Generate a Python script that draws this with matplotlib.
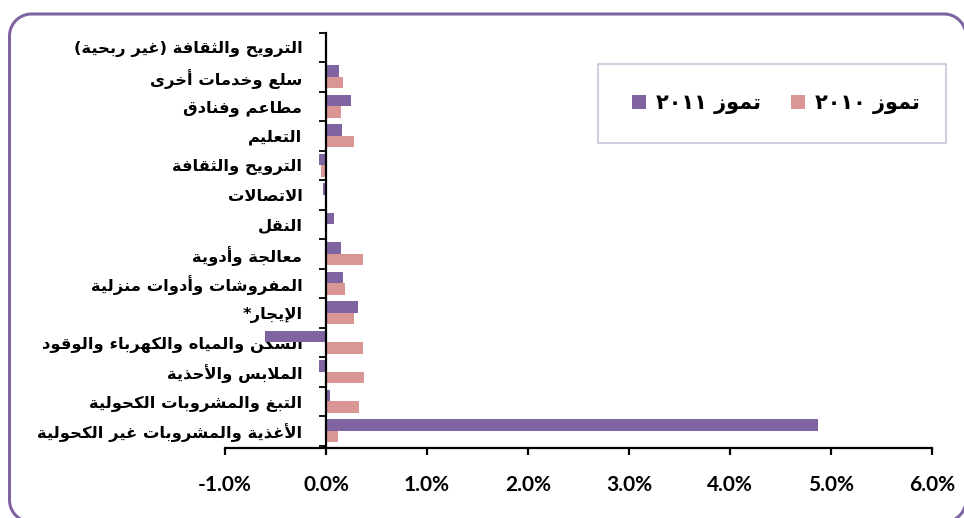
import re
import numpy as np
import matplotlib
matplotlib.use("Agg")
import matplotlib.pyplot as plt
from matplotlib.patches import Rectangle, Patch

# categories, bottom to top
categories = [
    "الأغذية والمشروبات غير الكحولية",
    "التبغ والمشروبات الكحولية",
    "الملابس والأحذية",
    "السكن والمياه والكهرباء والوقود",
    "الإيجار*",
    "المفروشات وأدوات منزلية",
    "معالجة وأدوية",
    "النقل",
    "الاتصالات",
    "الترويح والثقافة",
    "التعليم",
    "مطاعم وفنادق",
    "سلع وخدمات أخرى",
    "الترويح والثقافة (غير ربحية)",
]
jul_2011 = [4.87, 0.04, -0.065, -0.60, 0.32, 0.17, 0.15, 0.08, -0.025, -0.07, 0.16, 0.25, 0.13, 0.0]
jul_2010 = [0.12, 0.33, 0.38, 0.37, 0.28, 0.19, 0.37, 0.0, -0.01, -0.05, 0.28, 0.15, 0.165, 0.0]
label_2011 = "تموز ٢٠١١"
label_2010 = "تموز ٢٠١٠"
x_ticks = [-1, 0, 1, 2, 3, 4, 5, 6]

# --- minimal arabic shaping (matplotlib has no shaping / bidi) ---
DUAL = {'ئ': 0xFE89, 'ب': 0xFE8F, 'ت': 0xFE95, 'ث': 0xFE99, 'ج': 0xFE9D, 'ح': 0xFEA1,
        'خ': 0xFEA5, 'س': 0xFEB1, 'ش': 0xFEB5, 'ص': 0xFEB9, 'ض': 0xFEBD, 'ط': 0xFEC1,
        'ظ': 0xFEC5, 'ع': 0xFEC9, 'غ': 0xFECD, 'ف': 0xFED1, 'ق': 0xFED5, 'ك': 0xFED9,
        'ل': 0xFEDD, 'م': 0xFEE1, 'ن': 0xFEE5, 'ه': 0xFEE9, 'ي': 0xFEF1}
RIGHT = {'آ': 0xFE81, 'أ': 0xFE83, 'ؤ': 0xFE85, 'إ': 0xFE87, 'ا': 0xFE8D, 'ة': 0xFE93,
         'د': 0xFEA9, 'ذ': 0xFEAB, 'ر': 0xFEAD, 'ز': 0xFEAF, 'و': 0xFEED, 'ى': 0xFEEF}
LAM_ALEF = {'آ': 0xFEF5, 'أ': 0xFEF7, 'إ': 0xFEF9, 'ا': 0xFEFB}
MIRROR = {'(': ')', ')': '('}


def shape(s):
    out = []
    prev_joins = False
    i = 0
    while i < len(s):
        c = s[i]
        nxt = s[i + 1] if i + 1 < len(s) else ''
        if c == 'ل' and nxt in LAM_ALEF:
            out.append(chr(LAM_ALEF[nxt] + (1 if prev_joins else 0)))
            prev_joins = False
            i += 2
            continue
        if c in DUAL:
            next_ok = nxt in DUAL or nxt in RIGHT
            if prev_joins and next_ok:
                form = 3
            elif prev_joins:
                form = 1
            elif next_ok:
                form = 2
            else:
                form = 0
            out.append(chr(DUAL[c] + form))
            prev_joins = next_ok
        elif c in RIGHT:
            out.append(chr(RIGHT[c] + (1 if prev_joins else 0)))
            prev_joins = False
        elif c == 'ء':
            out.append(chr(0xFE80))
            prev_joins = False
        else:
            out.append(c)
            prev_joins = False
        i += 1
    return ''.join(out)


def rtl(s):
    shaped = shape(s)
    runs = re.findall(r'[0-9\u0660-\u0669.%]+|[^0-9\u0660-\u0669.%]+', shaped)
    out = []
    for r in reversed(runs):
        if re.match(r'[0-9\u0660-\u0669]', r):
            out.append(r)
        else:
            out.append(''.join(MIRROR.get(ch, ch) for ch in reversed(r)))
    return ''.join(out)


def rounded_rect(x0, y0, x1, y1, r, n=20):
    # corner arcs, counter-clockwise, y up
    pts = []
    for cx, cy, a0 in [(x1 - r, y0 + r, -90), (x1 - r, y1 - r, 0),
                       (x0 + r, y1 - r, 90), (x0 + r, y0 + r, 180)]:
        a = np.radians(np.linspace(a0, a0 + 90, n))
        pts += list(zip(cx + r * np.cos(a), cy + r * np.sin(a)))
    pts.append(pts[0])
    return np.array(pts)


purple = '#8064A2'
pink = '#D99694'
W, H = 964, 518

fig = plt.figure(figsize=(W / 100, H / 100), dpi=100)
fig.patch.set_facecolor('white')

ax = fig.add_axes([225 / W, 1 - 447.5 / H, (932 - 225) / W, (447.5 - 32.7) / H])
ax.set_facecolor('none')

y = np.arange(len(categories))
h = 0.39
ax.barh(y + h / 2, jul_2011, height=h, color=purple, zorder=2)
ax.barh(y - h / 2, jul_2010, height=h, color=pink, zorder=2)

ax.set_xlim(-1, 6)
ax.set_ylim(-0.56, len(categories) - 0.5)

for s in ['top', 'right']:
    ax.spines[s].set_visible(False)
ax.spines['left'].set_position(('data', 0))
ax.spines['left'].set_linewidth(1.6)
ax.spines['bottom'].set_linewidth(1.6)

ax.set_xticks(x_ticks)
ax.set_xticklabels([f"{v:.1f}%" for v in x_ticks], fontfamily='Lato', fontweight='bold', fontsize=15)
ax.tick_params(axis='x', length=5, width=1.6, pad=15)

ax.set_yticks(np.arange(-0.5, len(categories), 1.0))
ax.set_yticklabels([])
ax.tick_params(axis='y', which='major', length=5, width=1.3)
ax.set_yticks(y, minor=True)
ax.set_yticklabels([rtl(c) for c in categories], minor=True,
                   fontfamily='DejaVu Sans', fontweight='bold', fontsize=11.8)
ax.tick_params(axis='y', which='minor', length=0, pad=17)

# overlay in pixel coordinates (y up) for border and legend box
ov = fig.add_axes([0, 0, 1, 1], zorder=5)
ov.set_facecolor('none')
ov.set_xlim(0, W)
ov.set_ylim(0, H)
ov.axis('off')
border = rounded_rect(9.5, H - 522, 966, H - 14, 22)
ov.plot(border[:, 0], border[:, 1], color=purple, lw=2.2, solid_joinstyle='round')
ov.add_patch(Rectangle((598, H - 143), 348, 79, fill=False, edgecolor='#CCC1DA', linewidth=1.2))

handles = [Patch(facecolor=purple, edgecolor='none'), Patch(facecolor=pink, edgecolor='none')]
ov.legend(handles, [rtl(label_2011), rtl(label_2010)], ncol=2, loc='center',
          bbox_to_anchor=(776, H - 103.5), bbox_transform=ov.transData, frameon=False,
          prop={'family': 'DejaVu Sans', 'weight': 'bold', 'size': 15},
          handlelength=0.67, handleheight=0.67, handletextpad=0.48, columnspacing=1.44)

fig.savefig('out.png', dpi=100)
